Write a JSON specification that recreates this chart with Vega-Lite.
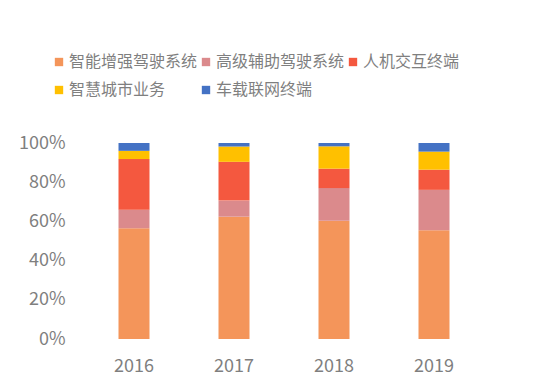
{
  "$schema": "https://vega.github.io/schema/vega-lite/v6.json",
  "width": 400,
  "height": 196,
  "autosize": "none",
  "padding": {"left": 84, "top": 143, "right": 56, "bottom": 45},
  "background": "white",
  "config": {
    "view": {"stroke": null},
    "font": "Noto Sans CJK SC"
  },
  "data": {
    "values": [
      {"year": "2016", "cat": "智能增强驾驶系统", "o": 1, "v": 56.5},
      {"year": "2016", "cat": "高级辅助驾驶系统", "o": 2, "v": 9.5},
      {"year": "2016", "cat": "人机交互终端", "o": 3, "v": 25.8},
      {"year": "2016", "cat": "智慧城市业务", "o": 4, "v": 4.2},
      {"year": "2016", "cat": "车载联网终端", "o": 5, "v": 4.0},
      {"year": "2017", "cat": "智能增强驾驶系统", "o": 1, "v": 62.4},
      {"year": "2017", "cat": "高级辅助驾驶系统", "o": 2, "v": 8.2},
      {"year": "2017", "cat": "人机交互终端", "o": 3, "v": 19.8},
      {"year": "2017", "cat": "智慧城市业务", "o": 4, "v": 7.8},
      {"year": "2017", "cat": "车载联网终端", "o": 5, "v": 1.8},
      {"year": "2018", "cat": "智能增强驾驶系统", "o": 1, "v": 60.3},
      {"year": "2018", "cat": "高级辅助驾驶系统", "o": 2, "v": 16.7},
      {"year": "2018", "cat": "人机交互终端", "o": 3, "v": 9.9},
      {"year": "2018", "cat": "智慧城市业务", "o": 4, "v": 11.4},
      {"year": "2018", "cat": "车载联网终端", "o": 5, "v": 1.7},
      {"year": "2019", "cat": "智能增强驾驶系统", "o": 1, "v": 55.5},
      {"year": "2019", "cat": "高级辅助驾驶系统", "o": 2, "v": 20.6},
      {"year": "2019", "cat": "人机交互终端", "o": 3, "v": 10.3},
      {"year": "2019", "cat": "智慧城市业务", "o": 4, "v": 9.2},
      {"year": "2019", "cat": "车载联网终端", "o": 5, "v": 4.4}
    ]
  },
  "mark": {"type": "bar"},
  "encoding": {
    "x": {
      "field": "year",
      "type": "nominal",
      "scale": {"paddingInner": 0.69, "paddingOuter": 0.345},
      "axis": {
        "title": null,
        "labelAngle": 0,
        "domain": false,
        "ticks": false,
        "labelFontSize": 18,
        "labelColor": "#7f7f7f",
        "labelPadding": 18
      }
    },
    "y": {
      "field": "v",
      "type": "quantitative",
      "stack": "normalize",
      "scale": {"domain": [0, 1]},
      "axis": {
        "title": null,
        "format": ".0%",
        "values": [0, 0.2, 0.4, 0.6, 0.8, 1],
        "domain": false,
        "ticks": false,
        "grid": false,
        "labelFontSize": 18,
        "labelColor": "#7f7f7f",
        "labelPadding": 19
      }
    },
    "order": {"field": "o", "type": "quantitative", "sort": "ascending"},
    "color": {
      "field": "cat",
      "type": "nominal",
      "scale": {
        "domain": ["智能增强驾驶系统", "高级辅助驾驶系统", "人机交互终端", "智慧城市业务", "车载联网终端"],
        "range": ["#F4955A", "#DB8A8C", "#F4583F", "#FFC000", "#4472C4"]
      },
      "legend": {
        "title": null,
        "orient": "none",
        "legendX": -33,
        "legendY": -89,
        "direction": "horizontal",
        "columns": 3,
        "columnPadding": 0,
        "rowPadding": 12,
        "symbolType": "square",
        "symbolSize": 70,
        "symbolStrokeWidth": 0,
        "labelFontSize": 16,
        "labelColor": "#7f7f7f",
        "labelOffset": 2,
        "labelLimit": 300
      }
    }
  }
}
